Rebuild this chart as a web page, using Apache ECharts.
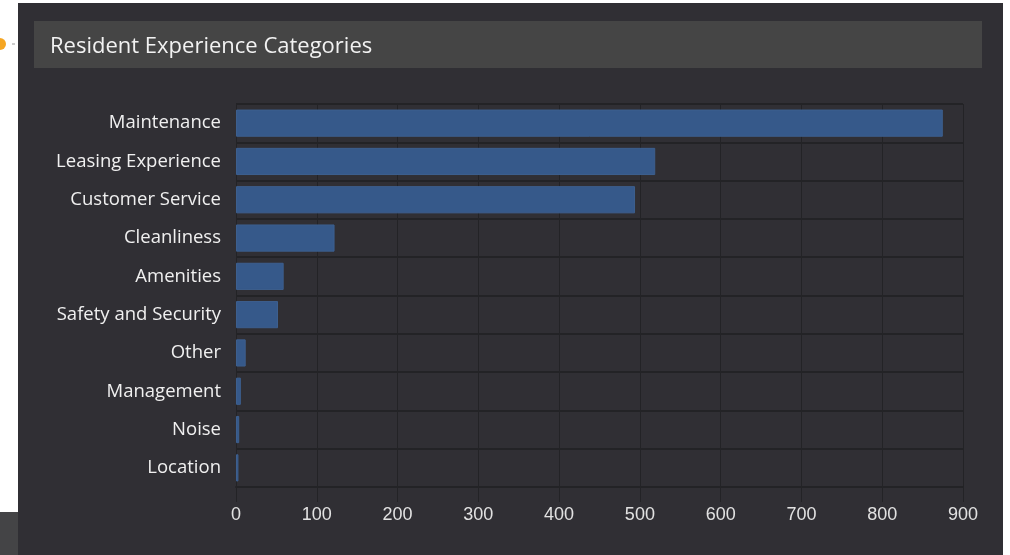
<!DOCTYPE html>
<html>
<head>
<meta charset="utf-8">
<title>Resident Experience Categories</title>
<script src="https://cdn.jsdelivr.net/npm/echarts@6/dist/echarts.min.js"></script>
<style>
    html, body { margin: 0; padding: 0; background: #ffffff; }
    #chart { width: 1010px; height: 555px; }
</style>
</head>
<body>
<div id="chart"></div>
<script>
// data
var categories = ['Maintenance', 'Leasing Experience', 'Customer Service', 'Cleanliness', 'Amenities',
    'Safety and Security', 'Other', 'Management', 'Noise', 'Location'];
var counts = [875, 519, 494, 122, 59, 52, 12, 6, 4, 3];
var axisTicks = { min: 0, max: 900, interval: 100 };

var lineColor = '#232326';

var dom = document.getElementById('chart');
var chart = echarts.init(dom);

var option = {
    backgroundColor: '#ffffff',
    animation: false,
    graphic: [
        // dark panel
        { type: 'rect', shape: { x: 18, y: 3, width: 985, height: 552 }, style: { fill: '#302f34' }, z: -10 },
        // bottom-left gray strip
        { type: 'rect', shape: { x: 0, y: 512, width: 18, height: 43 }, style: { fill: '#444446' }, z: -10 },
        // header bar
        { type: 'rect', shape: { x: 34, y: 21, width: 948, height: 47 }, style: { fill: '#454545' }, z: -9 },
        // orange dot at the left edge
        { type: 'circle', shape: { cx: 0, cy: 44, r: 6 }, style: { fill: '#f5a623' }, z: -8 },
        { type: 'rect', shape: { x: 12, y: 43, width: 3, height: 2 }, style: { fill: '#cccccc' }, z: -8 }
    ],
    title: {
        text: 'Resident Experience Categories',
        left: 45,
        top: 31,
        textStyle: {
            color: '#f2f2f2',
            fontSize: 22,
            fontWeight: 'normal',
            fontFamily: 'Open Sans'
        }
    },
    grid: {
        left: 236,
        right: 47,
        top: 104,
        bottom: 68
    },
    xAxis: {
        type: 'value',
        min: axisTicks.min,
        max: axisTicks.max,
        interval: axisTicks.interval,
        axisLine: { show: true, lineStyle: { color: lineColor, width: 2 } },
        axisTick: { show: true, length: 15, lineStyle: { color: lineColor } },
        splitLine: { show: true, lineStyle: { color: lineColor } },
        axisLabel: {
            color: '#e2e2e2',
            fontSize: 18,
            margin: 19,
            fontFamily: 'Liberation Sans'
        }
    },
    yAxis: {
        type: 'category',
        data: categories,
        inverse: true,
        axisLine: { show: true, lineStyle: { color: lineColor } },
        axisTick: { show: false },
        splitLine: { show: true, lineStyle: { color: lineColor, width: 2 } },
        axisLabel: {
            color: '#f0f0f0',
            fontSize: 18.5,
            margin: 15,
            padding: [2, 0, 0, 0],
            fontFamily: 'Open Sans'
        }
    },
    series: [{
        type: 'bar',
        data: counts,
        barCategoryGap: '29%',
        itemStyle: {
            color: '#36598a',
            borderColor: '#3d5f8e',
            borderWidth: 1
        }
    }]
};

chart.setOption(option);
window.addEventListener('resize', function () {
    chart.resize();
});
</script>
</body>
</html>
